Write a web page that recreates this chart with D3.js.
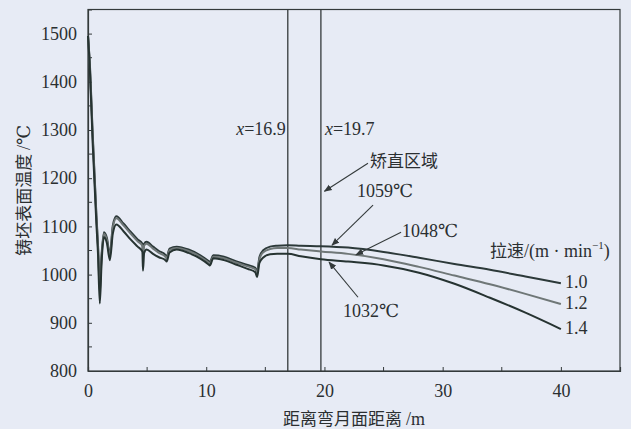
<!DOCTYPE html>
<html>
<head>
<meta charset="utf-8">
<script src="https://cdn.jsdelivr.net/npm/d3@7"></script>
<style>
  html, body { margin: 0; padding: 0; background: #e7ebf5; }
  svg { display: block; }
  svg text { fill: #2b2f31; font-family: "Liberation Serif", "DejaVu Serif", "Noto Sans CJK SC", serif; font-size: 18px; }
  svg text .cjk, svg text.cjk { font-family: "Noto Sans CJK SC", "Noto Sans CJK JP", sans-serif; font-size: 17px; }
</style>
</head>
<body>
<svg id="chart" width="631" height="429"></svg>
<script>
// Distance from meniscus (m)
const distance = [0, 0.15, 0.4, 0.7, 0.85, 1.0, 1.15, 1.35, 1.6, 1.85, 2.1, 2.4, 3.0, 3.6, 4.2, 4.6, 4.65, 4.75, 4.95, 5.5, 6.0, 6.55, 6.65, 6.9, 7.5, 8.5, 9.5, 10.2, 10.3, 10.6, 11.5, 12.5, 13.5, 14.15, 14.3, 14.5, 14.8, 15.4, 16.0, 16.9, 18, 19.7, 22, 25, 28, 31, 34, 37, 40];

// Slab surface temperature (°C) per casting speed
const temp10 = [1495, 1440, 1290, 1130, 1060, 975, 1042, 1088, 1076, 1042, 1102, 1121, 1106, 1089, 1073, 1064, 1050, 1064, 1068, 1058, 1049, 1041, 1037, 1054, 1058, 1052, 1040, 1028, 1026, 1040, 1037, 1028, 1020, 1014, 1006, 1036, 1050, 1058, 1060, 1061, 1060, 1059, 1056, 1047, 1035, 1022, 1010, 996, 982];
const temp12 = [1495, 1436, 1284, 1124, 1054, 962, 1036, 1085, 1072, 1038, 1098, 1117, 1102, 1085, 1069, 1060, 1040, 1060, 1064, 1054, 1045, 1037, 1033, 1051, 1055, 1049, 1037, 1025, 1023, 1037, 1034, 1025, 1017, 1011, 1002, 1032, 1046, 1053, 1055, 1055, 1052, 1048, 1043, 1032, 1016, 998, 980, 960, 939];
const temp14 = [1495, 1430, 1270, 1110, 1040, 940, 1025, 1078, 1065, 1030, 1085, 1104, 1090, 1073, 1058, 1048, 1008, 1045, 1052, 1043, 1036, 1030, 1027, 1046, 1052, 1045, 1033, 1021, 1019, 1034, 1030, 1021, 1012, 1005, 995, 1024, 1035, 1042, 1043, 1043, 1038, 1032, 1027, 1019, 1004, 981, 952, 921, 887];

const speeds = ["1.0", "1.2", "1.4"];
const seriesColors = ["#2c3939", "#6f7777", "#263331"];

// Axis ticks
const xTicks = [0, 10, 20, 30, 40];
const xMinorTicks = [5, 15, 25, 35];
const yTicks = [800, 900, 1000, 1100, 1200, 1300, 1400, 1500];
const yMinorTicks = [850, 950, 1050, 1150, 1250, 1350, 1450];

// Straightening zone boundaries (m)
const zoneLines = [16.9, 19.7];

// Point temperatures in the straightening zone with arrow leaders (data units)
const callouts = [
  { text: "矫直区域", tx: 23.85, tv: 1223, from: [23.68, 1231], to: [20.0, 1173], cjk: true },
  { text: "1059℃", tx: 22.75, tv: 1161, from: [24.11, 1144], to: [20.64, 1061] },
  { text: "1048℃", tx: 26.56, tv: 1078, from: [26.48, 1088], to: [22.67, 1041] },
  { text: "1032℃", tx: 21.57, tv: 912, from: [22.84, 953], to: [20.39, 1026] }
];

const svg = d3.select("#chart");
const W = 631, H = 429;
const m = { left: 88, right: 11, top: 9.5, bottom: 58 };

const x = d3.scaleLinear().domain([0, 45]).range([m.left, W - m.right]);
const y = d3.scaleLinear().domain([800, 1550]).range([H - m.bottom, m.top]);

const ink = "#343a3b";

// Arrow marker
svg.append("defs").append("marker")
  .attr("id", "arrow").attr("viewBox", "0 0 10 10")
  .attr("refX", 9).attr("refY", 5)
  .attr("markerWidth", 8).attr("markerHeight", 8)
  .attr("markerUnits", "userSpaceOnUse")
  .attr("orient", "auto")
  .append("path").attr("d", "M0,1 L10,5 L0,9 Z").attr("fill", ink);

// Plot frame
svg.append("rect")
  .attr("x", x(0)).attr("y", y(1550))
  .attr("width", x(45) - x(0)).attr("height", y(800) - y(1550))
  .attr("fill", "none").attr("stroke", ink).attr("stroke-width", 1.2);

// Inward-pointing axes
const xAxis = d3.axisBottom(x).tickValues(xTicks).tickSize(-4).tickPadding(13).tickFormat(d3.format("d"));
const gx = svg.append("g").attr("transform", `translate(0,${y(800)})`).call(xAxis);
gx.append("g").selectAll("line").data(xMinorTicks).join("line")
  .attr("x1", d => x(d)).attr("x2", d => x(d)).attr("y1", 0).attr("y2", -4)
  .attr("stroke", ink);

const yAxis = d3.axisLeft(y).tickValues(yTicks).tickSize(-4).tickPadding(11).tickFormat(d3.format("d"));
const gy = svg.append("g").attr("transform", `translate(${x(0)},0)`).call(yAxis);
gy.append("g").selectAll("line").data(yMinorTicks).join("line")
  .attr("x1", 0).attr("x2", 4).attr("y1", d => y(d)).attr("y2", d => y(d))
  .attr("stroke", ink);

[gx, gy].forEach(g => {
  g.attr("font-family", null).attr("font-size", null);
  g.select(".domain").attr("stroke", ink).attr("stroke-width", 1.2);
  g.selectAll(".tick line").attr("stroke", ink);
  g.selectAll(".tick text").attr("fill", "#2b2f31");
});

// Straightening zone boundaries
svg.append("g").selectAll("line").data(zoneLines).join("line")
  .attr("x1", d => x(d)).attr("x2", d => x(d))
  .attr("y1", y(1550)).attr("y2", y(800))
  .attr("stroke", ink).attr("stroke-width", 1.3);

// Temperature curves
const series = [temp10, temp12, temp14];
const line = d3.line().x((d, i) => x(distance[i])).y(d => y(d)).curve(d3.curveMonotoneX);
svg.append("g").selectAll("path").data(series).join("path")
  .attr("d", d => line(d))
  .attr("fill", "none")
  .attr("stroke", (d, i) => seriesColors[i])
  .attr("stroke-width", 2)
  .attr("stroke-linejoin", "round");

// Speed labels at curve ends
svg.append("g").selectAll("text").data(series).join("text")
  .attr("x", d => x(distance[distance.length - 1]) + 4)
  .attr("y", d => y(d[d.length - 1]) + 5)
  .text((d, i) => speeds[i]);

// Zone boundary labels
const l1 = svg.append("text").attr("x", x(zoneLines[0]) - 2).attr("y", y(1290)).attr("text-anchor", "end");
l1.append("tspan").attr("font-style", "italic").text("x");
l1.append("tspan").text("=" + zoneLines[0]);
const l2 = svg.append("text").attr("x", x(zoneLines[1]) + 4).attr("y", y(1290));
l2.append("tspan").attr("font-style", "italic").text("x");
l2.append("tspan").text("=" + zoneLines[1]);

// Callouts
const cg = svg.append("g");
cg.selectAll("line").data(callouts).join("line")
  .attr("x1", d => x(d.from[0])).attr("y1", d => y(d.from[1]))
  .attr("x2", d => x(d.to[0])).attr("y2", d => y(d.to[1]))
  .attr("stroke", ink).attr("stroke-width", 1.1)
  .attr("marker-end", "url(#arrow)");
cg.selectAll("text").data(callouts).join("text")
  .attr("class", d => d.cjk ? "cjk" : null)
  .attr("x", d => x(d.tx)).attr("y", d => y(d.tv))
  .text(d => d.text);

// Legend title
const lt = svg.append("text").attr("x", x(34.0)).attr("y", y(1036));
lt.append("tspan").attr("class", "cjk").text("拉速");
lt.append("tspan").text("/(m · min");
lt.append("tspan").style("font-size", "11px").attr("dy", -8).text("−1");
lt.append("tspan").attr("dy", 8).text(")");

// Axis titles
const xt = svg.append("text").attr("x", (x(0) + x(45)) / 2).attr("y", 425)
  .attr("text-anchor", "middle");
xt.append("tspan").attr("class", "cjk").text("距离弯月面距离 ");
xt.append("tspan").text("/m");

const yt = svg.append("text")
  .attr("transform", `translate(30,${(y(800) + y(1550)) / 2}) rotate(-90)`)
  .attr("text-anchor", "middle");
yt.append("tspan").attr("class", "cjk").text("铸坯表面温度 ");
yt.append("tspan").text("/℃");
</script>
</body>
</html>
